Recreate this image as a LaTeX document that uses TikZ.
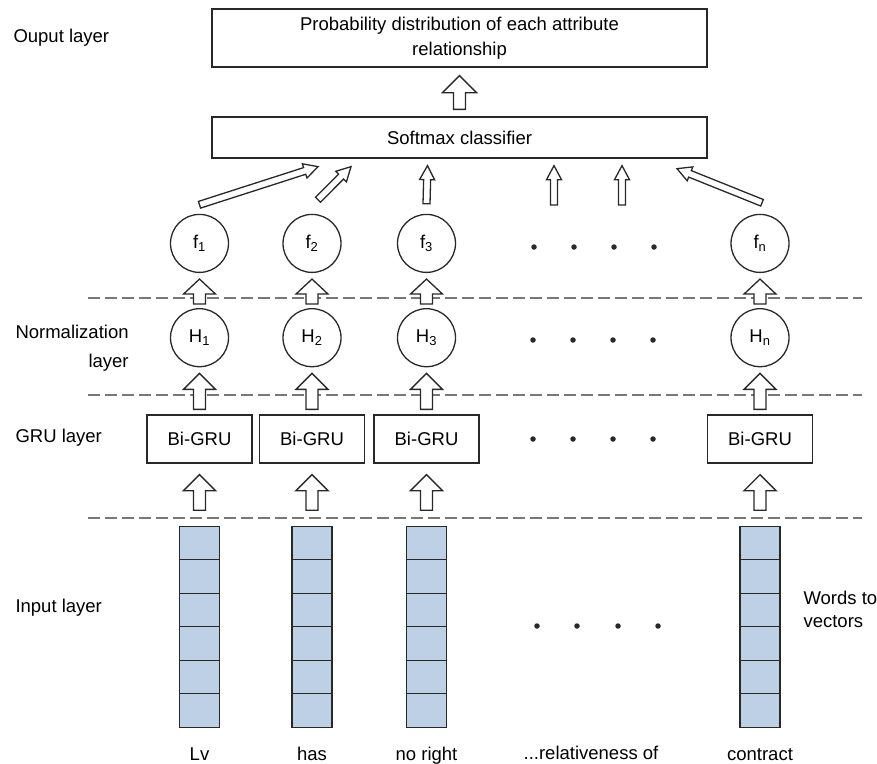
\documentclass[tikz,border=0pt]{standalone}
\usepackage{fontspec}
\setmainfont{Liberation Sans}
\usetikzlibrary{calc,positioning}

\definecolor{cellblue}{RGB}{189,208,229}
\definecolor{edgegray}{RGB}{40,40,40}
\definecolor{dashgray}{RGB}{120,120,120}

% hollow arrow: tail, tip, shaft half width, head half width, head length
\newcommand{\hollowarrow}[5]{%
  \path (#2) coordinate (ha-tip) ($(ha-tip)!#5!(#1)$) coordinate (ha-base) (#1) coordinate (ha-tail);
  \draw[arr] ($(ha-tail)!#3!90:(ha-tip)$) -- ($(ha-base)!#3!90:(ha-tip)$) -- ($(ha-base)!#4!90:(ha-tip)$)
    -- (ha-tip) -- ($(ha-base)!#4!-90:(ha-tip)$) -- ($(ha-base)!#3!-90:(ha-tip)$) -- ($(ha-tail)!#3!-90:(ha-tip)$) -- cycle;
}

\begin{document}
\begin{tikzpicture}[x=1pt,y=-1pt,font=\fontsize{18.5}{22}\selectfont]
\tikzstyle{box} = [draw=edgegray, line width=1.3pt, rectangle, fill=white, inner sep=0pt]
\tikzstyle{unit} = [draw=edgegray, line width=1.3pt, circle, minimum size=58pt, inner sep=0pt]
\tikzstyle{cell} = [draw=edgegray, line width=1.3pt, fill=cellblue, minimum width=40pt, minimum height=33.5pt, inner sep=0pt, outer sep=0pt]
\tikzstyle{sep} = [dashgray, line width=1.5pt, dash pattern=on 12pt off 5pt]
\tikzstyle{arr} = [draw=edgegray, line width=1.3pt, fill=white, line join=miter]
\tikzstyle{dot} = [circle, fill=edgegray, minimum size=5.5pt, inner sep=0pt]

\useasboundingbox (0,0) rectangle (877,763);

% output part
\node [box, minimum width=495pt, minimum height=58pt, align=center, font=\fontsize{18.5}{25}\selectfont] (prob) at (459.5,38) {Probability distribution of each attribute\\relationship};
\node [box, minimum width=495pt, minimum height=41pt] (soft) at (459.5,137.5) {Softmax classifier};

% GRU layer
\node [box, minimum width=105pt, minimum height=48pt] (gru1) at (199.5,439) {Bi-GRU};
\node [box, minimum width=105pt, minimum height=48pt] (gru2) at (312,439) {Bi-GRU};
\node [box, minimum width=105pt, minimum height=48pt] (gru3) at (426.5,439) {Bi-GRU};
\node [box, minimum width=105pt, minimum height=48pt] (grun) at (760,439) {Bi-GRU};

% normalization and features
\node [unit, above=47pt of gru1] (H1) {H\textsubscript{1}};
\node [unit, above=47pt of gru2] (H2) {H\textsubscript{2}};
\node [unit, above=47pt of gru3] (H3) {H\textsubscript{3}};
\node [unit, above=47pt of grun] (Hn) {H\textsubscript{n}};
\node [unit, above=35pt of H1] (f1) {f\textsubscript{1}};
\node [unit, above=35pt of H2] (f2) {f\textsubscript{2}};
\node [unit, above=35pt of H3] (f3) {f\textsubscript{3}};
\node [unit, above=35pt of Hn] (fn) {f\textsubscript{n}};

% word vectors
\foreach \c in {1,2,3,n} {
  \node [cell, below=62.6pt of gru\c] (v\c-1) {};
  \foreach \i [remember=\i as \j (initially 1)] in {2,...,6}
    \node [cell, below=0pt of v\c-\j] (v\c-\i) {};
}
\node [anchor=base] (w1) at ($(v1-6.south)+(0,33)$) {Lv};
\node [anchor=base] (w2) at ($(v2-6.south)+(0,33)$) {has};
\node [anchor=base] (w3) at ($(v3-6.south)+(0,33)$) {no right};
\node [anchor=base] (w4) at (591,759) {...relativeness of};
\node [anchor=base] (wn) at ($(vn-6.south)+(0,33)$) {contract};

% dots
\foreach \x in {534,574,614,654} \node [dot] at (\x,247) {};
\foreach \x in {533,573,613,653} {
  \node [dot] at (\x,340) {};
  \node [dot] at (\x,439) {};
}
\foreach \x in {537,577,618,658} \node [dot] at (\x,626) {};

% layer names
\node [anchor=west] (lout) at (10,38) {Ouput layer};
\node [anchor=west, align=right, font=\fontsize{18.5}{29}\selectfont] (lnorm) at (12,348) {Normalization\\layer};
\node [anchor=west] (lgru) at (12,438) {GRU layer};
\node [anchor=west] (lin) at (12,608) {Input layer};
\node [anchor=west, align=left, font=\fontsize{18.5}{23}\selectfont] (lw2v) at (800,609) {Words to\\vectors};

% separators
\draw [sep] (88,298) -- (862,298);
\draw [sep] (88,395) -- (862,395);
\draw [sep] (88,518) -- (862,518);

% block arrows
\foreach \c in {1,2,3,n} {
  \hollowarrow{[yshift=16pt]v\c-1.north}{[yshift=-11pt]gru\c.south}{6pt}{16pt}{16pt}
  \hollowarrow{[yshift=5pt]gru\c.north}{[yshift=-6pt]H\c.south}{6pt}{16pt}{16pt}
  \hollowarrow{[yshift=4pt]H\c.north}{[yshift=-6pt]f\c.south}{6pt}{16pt}{15pt}
}
\hollowarrow{[yshift=7pt]soft.north}{[yshift=-8pt]prob.south}{6pt}{17pt}{17pt}

% arrows into the classifier
\coordinate (d1) at (554,205);
\coordinate (d2) at (622,205);
\hollowarrow{[yshift=9pt]f1.north}{[xshift=-141.5pt,yshift=-8pt]soft.south}{3.5pt}{7.5pt}{14pt}
\hollowarrow{[xshift=6pt,yshift=14pt]f2.north}{[xshift=-108.5pt,yshift=-8pt]soft.south}{3.5pt}{7.5pt}{14pt}
\hollowarrow{[yshift=10pt]f3.north}{[xshift=-32pt,yshift=-7pt]soft.south}{3.5pt}{7.5pt}{14pt}
\hollowarrow{d1}{[xshift=94.5pt,yshift=-7pt]soft.south}{3.5pt}{7.5pt}{14pt}
\hollowarrow{d2}{[xshift=162.5pt,yshift=-7pt]soft.south}{3.5pt}{7.5pt}{14pt}
\hollowarrow{[xshift=2pt,yshift=11pt]fn.north}{[xshift=217.5pt,yshift=-10pt]soft.south}{3.5pt}{7.5pt}{14pt}
\end{tikzpicture}
\end{document}
